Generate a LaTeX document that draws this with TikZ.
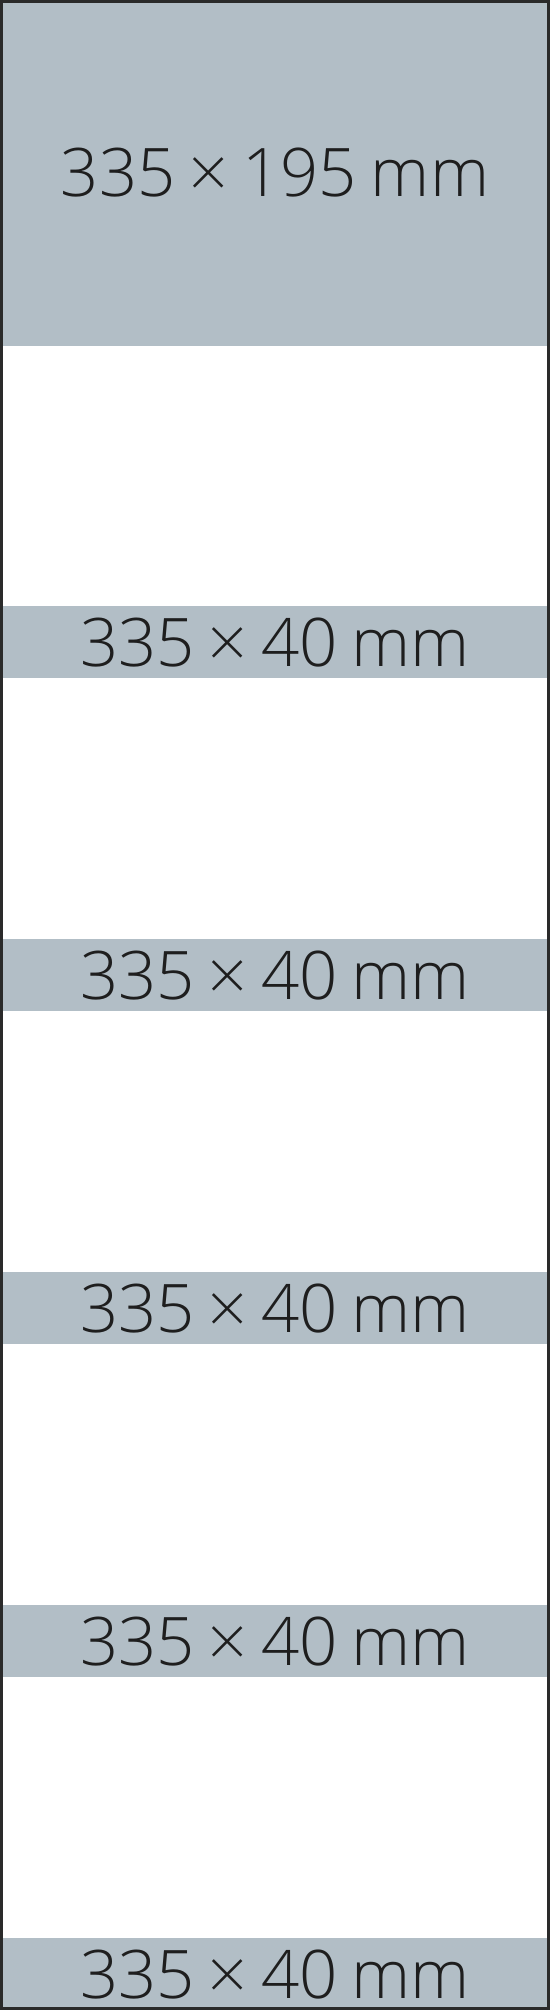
\documentclass[tikz,border=0pt]{standalone}
\usepackage{fontspec}
\setmainfont{Open Sans Light}
\definecolor{bandgrey}{HTML}{B2BEC6}
\definecolor{ink}{HTML}{1E1E1E}
\definecolor{frame}{HTML}{2A2A2A}
\newcommand{\gapsp}{\hspace{0.21em}}
\begin{document}
\begin{tikzpicture}[x=1pt,y=-1pt,
  band/.style={fill=bandgrey, draw=none},
  lbl/.style={text=ink, font=\fontsize{67}{70}\selectfont, inner sep=0pt, anchor=center}]
\useasboundingbox (0,0) rectangle (550,2010);
\fill[white] (0,0) rectangle (550,2010);
\fill[band] (0,0) rectangle (550,346);
\node[lbl] (t0) at (275,173) {335\gapsp×\gapsp195\gapsp mm};
\foreach \y [count=\i] in {606,939,1272,1605,1938}{
  \fill[band] (0,\y) rectangle (550,\y+72);
  \node[lbl] (t\i) at (275,\y+37) {335\gapsp×\gapsp40\gapsp mm};
}
\draw[frame, line width=3pt] (1.5,1.5) rectangle (548.5,2008.5);
\end{tikzpicture}
\end{document}
